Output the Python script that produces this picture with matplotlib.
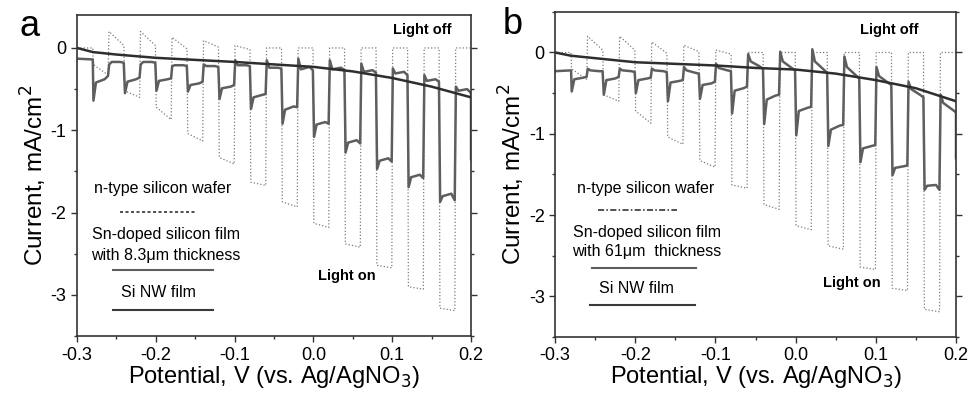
import numpy as np
import matplotlib
matplotlib.use("Agg")
import matplotlib.pyplot as plt
from matplotlib.ticker import MultipleLocator, FormatStrFormatter

plt.rcParams['font.family'] = ['Liberation Sans', 'DejaVu Sans']
plt.rcParams['axes.unicode_minus'] = False

# chopped light: light on at each start, off after HALF, period 0.04 V
on_start = [-0.28, -0.24, -0.20, -0.16, -0.12, -0.08, -0.04, 0.00, 0.04, 0.08, 0.12, 0.16]
HALF = 0.02

# n-type silicon wafer (same in both panels): [start, end] of each half period
wafer_light = [[-0.20, -0.33], [-0.52, -0.60], [-0.72, -0.87], [-1.04, -1.13],
               [-1.33, -1.41], [-1.63, -1.67], [-1.87, -1.93], [-2.13, -2.18],
               [-2.38, -2.42], [-2.64, -2.67], [-2.90, -2.93], [-3.16, -3.19]]
wafer_dark = [[0.20, 0.03], [0.20, 0.03], [0.13, -0.01], [0.09, 0.01],
              [0.03, -0.02], [0.0, 0.0], [0.0, 0.0], [0.0, 0.0],
              [0.0, 0.0], [0.0, 0.0], [0.0, 0.0], [0.0, 0.0]]
wafer_start = [0.0, 0.0]

# Sn-doped silicon film (smooth dark sweep)
sn_v = [-0.30, -0.28, -0.25, -0.20, -0.15, -0.10, -0.05, 0.00, 0.05, 0.10, 0.15, 0.20]
sn_a = [0.0, -0.05, -0.08, -0.12, -0.145, -0.17, -0.20, -0.23, -0.285, -0.365, -0.47, -0.60]
sn_b = [0.0, -0.04, -0.07, -0.12, -0.14, -0.16, -0.19, -0.21, -0.26, -0.34, -0.44, -0.60]

# Si NW film: [spike, knee, mid, end] for each half period
nw_a_light = [[-0.64, -0.42, -0.38, -0.34], [-0.55, -0.41, -0.38, -0.36],
              [-0.52, -0.40, -0.38, -0.37], [-0.53, -0.45, -0.43, -0.41],
              [-0.62, -0.49, -0.47, -0.45], [-0.74, -0.60, -0.57, -0.56],
              [-0.92, -0.75, -0.71, -0.72], [-1.08, -0.93, -0.90, -0.92],
              [-1.27, -1.15, -1.12, -1.16], [-1.47, -1.37, -1.34, -1.38],
              [-1.69, -1.57, -1.54, -1.58], [-1.87, -1.80, -1.77, -1.85]]
nw_a_dark = [[-0.20, -0.17, -0.17, -0.18], [-0.20, -0.17, -0.17, -0.18],
             [-0.22, -0.21, -0.21, -0.22], [-0.20, -0.22, -0.22, -0.23],
             [-0.15, -0.21, -0.21, -0.22], [-0.15, -0.24, -0.24, -0.25],
             [-0.13, -0.26, -0.23, -0.27], [-0.15, -0.26, -0.24, -0.27],
             [-0.19, -0.29, -0.27, -0.30], [-0.25, -0.31, -0.29, -0.33],
             [-0.33, -0.40, -0.38, -0.41], [-0.47, -0.52, -0.50, -0.54]]
nw_a_start = [-0.13, -0.14]
nw_a_drop = -1.35

nw_b_light = [[-0.48, -0.33, -0.31, -0.30], [-0.52, -0.34, -0.32, -0.30],
              [-0.50, -0.34, -0.32, -0.31], [-0.60, -0.37, -0.35, -0.34],
              [-0.57, -0.40, -0.38, -0.36], [-0.75, -0.47, -0.44, -0.42],
              [-0.88, -0.58, -0.53, -0.52], [-1.02, -0.72, -0.68, -0.67],
              [-1.15, -0.95, -0.90, -0.89], [-1.35, -1.18, -1.15, -1.14],
              [-1.51, -1.42, -1.40, -1.39], [-1.69, -1.64, -1.63, -1.69]]
nw_b_dark = [[-0.20, -0.22, -0.23, -0.23], [-0.20, -0.22, -0.23, -0.24],
             [-0.20, -0.22, -0.23, -0.24], [-0.18, -0.22, -0.25, -0.26],
             [-0.14, -0.19, -0.22, -0.23], [-0.02, -0.11, -0.17, -0.20],
             [0.01, -0.11, -0.19, -0.22], [0.04, -0.11, -0.21, -0.25],
             [-0.05, -0.18, -0.28, -0.32], [-0.18, -0.29, -0.37, -0.40],
             [-0.36, -0.45, -0.52, -0.55], [-0.52, -0.62, -0.70, -0.73]]
nw_b_start = [-0.23, -0.22]
nw_b_drop = -1.30

frac_wafer = [0.0005, 0.0195]
frac_nw = [0.0008, 0.004, 0.015, 0.0193]


def chop_curve(start, light, dark, fr, drop=None):
    xs = [-0.30, on_start[0]]
    ys = list(start)
    for k, t in enumerate(on_start):
        for f, v in zip(fr, light[k]):
            xs.append(t + f)
            ys.append(v)
        for f, v in zip(fr, dark[k]):
            xs.append(t + HALF + f)
            ys.append(v)
    xs.append(0.2)
    ys.append(ys[-1])
    if drop is not None:
        xs.append(0.2)
        ys.append(drop)
    return xs, ys


def style_axes(ax, ytop):
    ax.set_xlim(-0.3, 0.2)
    ax.set_ylim(-3.5, ytop)
    ax.xaxis.set_major_locator(MultipleLocator(0.1))
    ax.xaxis.set_minor_locator(MultipleLocator(0.05))
    ax.yaxis.set_major_locator(MultipleLocator(1))
    ax.yaxis.set_minor_locator(MultipleLocator(0.5))
    ax.xaxis.set_major_formatter(FormatStrFormatter('%.1f'))
    ax.yaxis.set_major_formatter(FormatStrFormatter('%d'))
    ax.tick_params(which='both', direction='out', labelsize=13, color='#333333',
                   right=True, top=False)
    ax.tick_params(which='major', length=4, width=1)
    ax.tick_params(which='minor', length=2.5, width=1)
    for s in ax.spines.values():
        s.set_color('#333333')
        s.set_linewidth(1.2)
    ax.set_xlabel('Potential, V (vs. Ag/AgNO$_3$)', fontsize=17, labelpad=0)
    ax.set_ylabel('Current, mA/cm$^2$', fontsize=17.5, labelpad=1)


fig = plt.figure(figsize=(9.69, 3.95), dpi=100)
ax_a = fig.add_axes([0.0795, 0.149, 0.4066, 0.813])
ax_b = fig.add_axes([0.5728, 0.147, 0.4138, 0.823])

panels = [
    (ax_a, 0.4, sn_a, nw_a_start, nw_a_light, nw_a_dark, nw_a_drop),
    (ax_b, 0.5, sn_b, nw_b_start, nw_b_light, nw_b_dark, nw_b_drop),
]
for ax, ytop, sn, st, li, da, dr in panels:
    wx, wy = chop_curve(wafer_start, wafer_light, wafer_dark, frac_wafer)
    ax.plot(wx, wy, ls=':', color='#7a7a7a', lw=0.9)
    nx, ny = chop_curve(st, li, da, frac_nw, dr)
    ax.plot(nx, ny, '-', color='#5e5e5e', lw=1.8)
    ax.plot(sn_v, sn, '-', color='#2e2e2e', lw=1.8)
    style_axes(ax, ytop)

tk = dict(fontsize=11.5, ha='center', va='center')
bk = dict(fontweight='bold', fontsize=10.5, ha='center', va='center')
# panel a annotations
ax_a.text(0.218, 0.461, 'n-type silicon wafer', transform=ax_a.transAxes, **tk)
ax_a.plot([0.109, 0.305], [0.386, 0.386], transform=ax_a.transAxes, ls=(0, (2, 1.6)),
          color='#222222', lw=1.1)
ax_a.text(0.226, 0.318, 'Sn-doped silicon film', transform=ax_a.transAxes, **tk)
ax_a.text(0.226, 0.252, 'with 8.3\u03bcm thickness', transform=ax_a.transAxes, **tk)
ax_a.plot([0.091, 0.345], [0.206, 0.206], transform=ax_a.transAxes, color='#5e5e5e', lw=1.5)
ax_a.text(0.206, 0.137, 'Si NW film', transform=ax_a.transAxes, **tk)
ax_a.plot([0.091, 0.345], [0.081, 0.081], transform=ax_a.transAxes, color='#3a3a3a', lw=1.5)
ax_a.text(0.876, 0.953, 'Light off', transform=ax_a.transAxes, **bk)
ax_a.text(0.685, 0.187, 'Light on', transform=ax_a.transAxes, **bk)

# panel b annotations
ax_b.text(0.227, 0.458, 'n-type silicon wafer', transform=ax_b.transAxes, **tk)
ax_b.plot([0.108, 0.303], [0.389, 0.389], transform=ax_b.transAxes, ls=(0, (4, 1.5, 1, 1.5)),
          color='#222222', lw=1.1)
ax_b.text(0.229, 0.321, 'Sn-doped silicon film', transform=ax_b.transAxes, **tk)
ax_b.text(0.229, 0.262, 'with 61\u03bcm  thickness', transform=ax_b.transAxes, **tk)
ax_b.plot([0.091, 0.351], [0.211, 0.211], transform=ax_b.transAxes, color='#5e5e5e', lw=1.5)
ax_b.text(0.204, 0.150, 'Si NW film', transform=ax_b.transAxes, **tk)
ax_b.plot([0.088, 0.348], [0.098, 0.098], transform=ax_b.transAxes, color='#3a3a3a', lw=1.5)
ax_b.text(0.833, 0.945, 'Light off', transform=ax_b.transAxes, **bk)
ax_b.text(0.740, 0.166, 'Light on', transform=ax_b.transAxes, **bk)

fig.text(30 / 969, 1 - 27 / 395, 'a', fontsize=26, ha='center', va='center')
fig.text(513 / 969, 1 - 25 / 395, 'b', fontsize=26, ha='center', va='center')

fig.savefig('out.png', dpi=100)
plt.close(fig)
